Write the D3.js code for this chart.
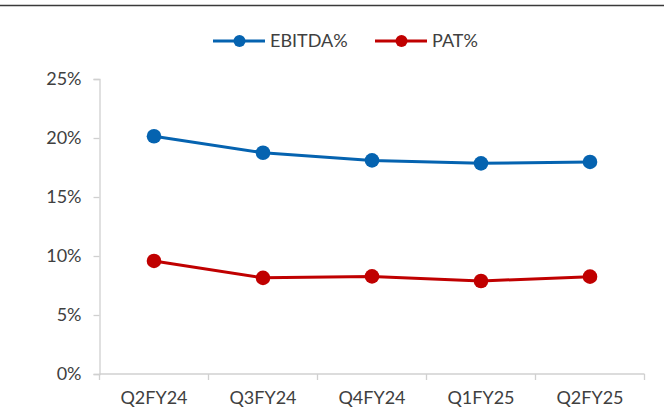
<!DOCTYPE html>
<html>
<head>
<meta charset="utf-8">
<script src="https://cdn.jsdelivr.net/npm/d3@7"></script>
<style>
  html, body { margin: 0; padding: 0; background: #fff; }
  svg { display: block; }
  text { font-family: Lato, "Open Sans", sans-serif; fill: #404040; }
</style>
</head>
<body>
<svg id="chart" width="664" height="415"></svg>
<script>
const categories = ["Q2FY24", "Q3FY24", "Q4FY24", "Q1FY25", "Q2FY25"];
const ebitda = [20.15, 18.75, 18.1, 17.85, 17.97];
const pat = [9.58, 8.15, 8.27, 7.88, 8.25];
const yTicks = [0, 5, 10, 15, 20, 25];
const seriesNames = ["EBITDA%", "PAT%"];
const seriesColors = ["#0563B0", "#C00000"];

const series = [
  { name: seriesNames[0], values: ebitda, color: seriesColors[0] },
  { name: seriesNames[1], values: pat, color: seriesColors[1] }
];

const svg = d3.select("#chart");
const plotLeft = 99.5, plotRight = 644.5, plotTop = 79, plotBottom = 374;

// top border
svg.append("line")
  .attr("x1", 0).attr("x2", 664).attr("y1", 5.5).attr("y2", 5.5)
  .attr("stroke", "#3a3a3a").attr("stroke-width", 1.6);

const x = d3.scaleBand().domain(categories).range([plotLeft, plotRight]);
const y = d3.scaleLinear().domain([0, 25]).range([plotBottom, plotTop]);

// Y axis
const yAxis = svg.append("g")
  .attr("transform", `translate(${plotLeft},0)`)
  .call(d3.axisLeft(y).tickValues(yTicks).tickFormat(d => d + "%").tickSize(6).tickPadding(12));
yAxis.select(".domain").attr("stroke", "#d0d0d0").attr("stroke-width", 1.3);
yAxis.selectAll(".tick line").attr("stroke", "#d0d0d0").attr("stroke-width", 1.3);
yAxis.selectAll("text").style("font-size", "18px").attr("fill", "#404040")
  .style("font-family", "Lato, sans-serif");

// X axis
const xTickPositions = categories.map(c => x(c)).concat([plotRight]);
const xAxis = svg.append("g").attr("transform", `translate(0,${plotBottom})`);
xAxis.append("line").attr("x1", plotLeft).attr("x2", plotRight).attr("y1", 0).attr("y2", 0)
  .attr("stroke", "#d0d0d0").attr("stroke-width", 1.3);
xAxis.selectAll("line.tk").data(xTickPositions).enter().append("line")
  .attr("class", "tk")
  .attr("x1", d => d).attr("x2", d => d).attr("y1", 0).attr("y2", 6)
  .attr("stroke", "#d0d0d0").attr("stroke-width", 1.3);
xAxis.selectAll("text").data(categories).enter().append("text")
  .attr("x", d => x(d) + x.bandwidth() / 2)
  .attr("y", 30)
  .attr("text-anchor", "middle")
  .style("font-size", "18px")
  .text(d => d);

// lines
const line = d3.line()
  .x((d, i) => x(categories[i]) + x.bandwidth() / 2)
  .y(d => y(d));

series.forEach(s => {
  svg.append("path").datum(s.values)
    .attr("d", line)
    .attr("fill", "none")
    .attr("stroke", s.color)
    .attr("stroke-width", 3);
  svg.selectAll(null).data(s.values).enter().append("circle")
    .attr("cx", (d, i) => x(categories[i]) + x.bandwidth() / 2)
    .attr("cy", d => y(d))
    .attr("r", 7.3)
    .attr("fill", s.color);
});

// legend
const legendX = [213, 375];
const legend = svg.append("g");
series.forEach((s, i) => {
  const g = legend.append("g").attr("transform", `translate(${legendX[i]},41)`);
  g.append("line").attr("x1", 0).attr("x2", 52).attr("y1", 0).attr("y2", 0)
    .attr("stroke", s.color).attr("stroke-width", 3);
  g.append("circle").attr("cx", 26.5).attr("cy", 0).attr("r", 6).attr("fill", s.color);
  g.append("text").attr("x", 57).attr("y", 0).attr("dy", "0.35em")
    .style("font-size", "18px").text(s.name);
});
</script>
</body>
</html>
